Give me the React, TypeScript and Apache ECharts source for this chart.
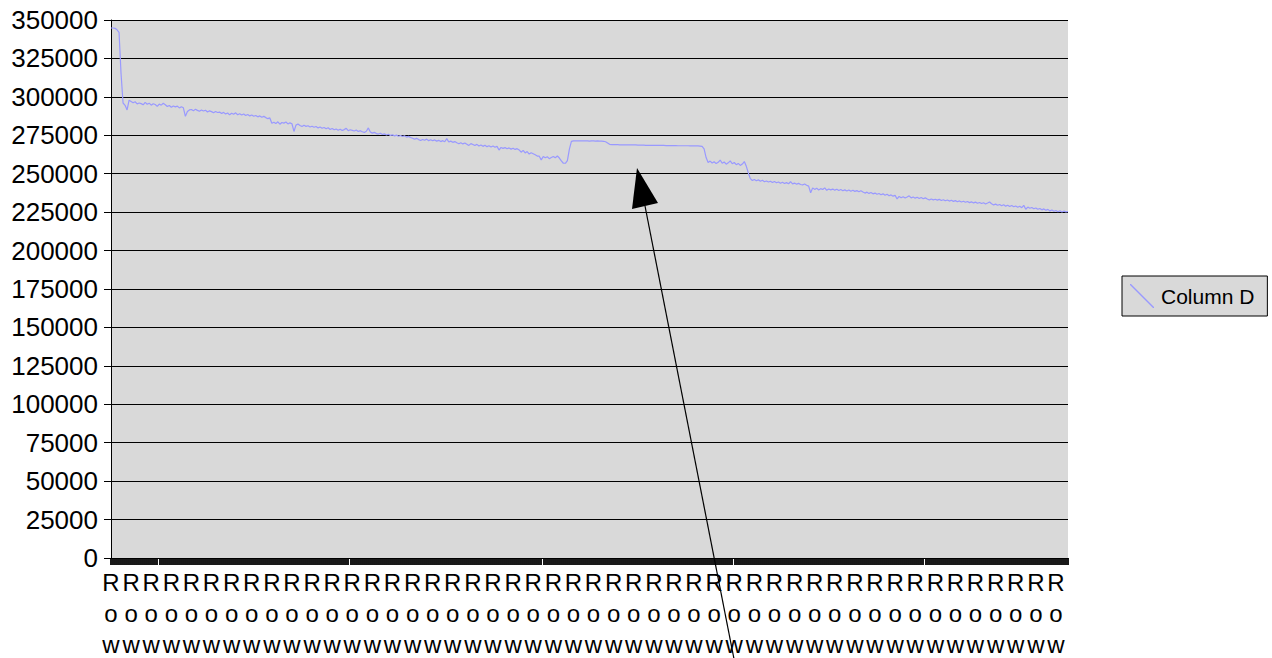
import React, { useEffect, useRef } from "react";
import * as echarts from "echarts";

const seriesName = "Column D";
const yTicks = { min: 0, max: 350000, interval: 25000 };

const columnD: number[] = [
  344800, 344800, 344600, 343600, 342000, 315000, 296000, 294500, 291500, 297800,
  297000, 296200, 296800, 295400, 296000, 295600, 294800, 296400, 295200, 295900,
  294600, 295500, 295000, 293800, 295300, 294600, 295800, 294900, 293700, 294400,
  293200, 294100, 293500, 294000, 292800, 293600, 292900, 287300, 290500, 291500,
  291800, 290900, 292000, 291200, 290600, 291400, 290800, 291300, 290200, 290900,
  290400, 289600, 290500, 289800, 290100, 289200, 289900, 288800, 289500, 288300,
  289300, 288700, 289600, 288400, 289000, 288200, 288800, 287900, 288500, 287600,
  288200, 287400, 287900, 287000, 287600, 286700, 287300, 286500, 285800, 286300,
  282800, 283500, 282600, 283800, 282200, 283300, 282900, 283600, 282400, 283100,
  282500, 277500, 281600, 282300, 281400, 280700, 281500, 280800, 281200, 280400,
  280900, 280200, 280700, 279800, 280400, 279600, 280100, 279300, 279900, 278800,
  279400, 278600, 279100, 278300, 278900, 278100, 278700, 279500, 278000, 278600,
  278200, 277800, 278400, 277500, 278000, 277300, 276800, 277600, 279800, 277200,
  276400, 276900, 276100, 275800, 276300, 275500, 275900, 275200, 275700, 274900,
  275300, 274600, 275100, 274400, 274900, 274200, 274700, 273800, 274300, 273600,
  273100, 272400, 273000, 272200, 271600, 272300, 271800, 272500, 271500, 272100,
  271400, 272000, 271200, 271700, 270900, 271500, 270800, 272800, 270600, 271200,
  270400, 270900, 270100, 269500, 270200, 269400, 270000, 269200, 268400, 269600,
  269000, 268300, 269100, 268000, 268700, 267800, 268500, 267600, 268200, 267400,
  268000, 267200, 267800, 265400, 267100, 266500, 267000, 266200, 266800, 266000,
  266600, 265800, 266300, 265500, 264000, 265200, 263500, 264400, 262800, 263600,
  263000, 262300, 261500, 261400, 259000, 261200, 260400, 261000, 259800, 260600,
  261200, 260400, 261500, 260200, 258300, 256800, 256800, 258500, 266000, 271000,
  271400, 271300, 271400, 271300, 271300, 271400, 271300, 271300, 271200, 271300,
  271300, 271200, 271300, 271200, 271200, 271100, 270800, 270000, 269100, 268900,
  268900, 268900, 268900, 268800, 268800, 268800, 268800, 268700, 268700, 268700,
  268700, 268700, 268600, 268600, 268600, 268600, 268500, 268500, 268500, 268500,
  268500, 268400, 268400, 268400, 268400, 268400, 268300, 268300, 268300, 268300,
  268300, 268300, 268200, 268200, 268200, 268200, 268200, 268200, 268100, 268100,
  268100, 268100, 268100, 268000, 267800, 266200, 260500, 257300, 258200, 257000,
  257800, 256600, 257400, 258900, 256800, 257600, 256200, 257100, 258400, 256500,
  257300, 255900, 256700, 255400, 256300, 257900, 254800, 250500, 246800, 245600,
  246200, 245400, 246000, 245100, 245700, 244800, 245300, 244600, 245100, 244300,
  244900, 244100, 244600, 243800, 244400, 243600, 244200, 243500, 244800, 243400,
  243900, 243200, 243700, 243000, 242700, 243300, 242500, 241900, 237600, 240800,
  239800, 240600, 239400, 240300, 239700, 240800, 239200, 240100, 239500, 240000,
  239300, 239900, 239100, 239700, 238900, 239500, 238800, 239400, 238600, 239200,
  238500, 239000, 238300, 238900, 238100, 237400, 238000, 237200, 237800, 236900,
  237400, 236600, 237100, 236300, 236900, 236000, 236600, 235700, 236200, 235400,
  235900, 233600, 235200, 234400, 235000, 234200, 234800, 235600, 234300, 234900,
  234100, 234700, 233900, 234500, 233700, 234300, 233500, 232900, 233600, 233000,
  233400, 232800, 233300, 232600, 233100, 232400, 232900, 232200, 232700, 232000,
  232500, 231800, 232300, 231600, 232100, 231400, 231900, 231200, 231700, 231000,
  231500, 230800, 231300, 230600, 231100, 230300, 230900, 231600, 230500, 229700,
  230200, 229500, 230000, 229200, 229800, 228900, 229500, 228700, 229300, 228500,
  229000, 228200, 228800, 227900, 229400, 226900, 228300, 227500, 228000, 227200,
  227700, 226900, 227400, 226500, 227100, 226200, 226800, 225800, 226400, 225600,
  226100, 225300, 225900, 225100, 225700, 225200, 225400,
];

const categories: string[] = columnD.map((_, i) => "Row " + (i + 1));

const FONT = "'Liberation Sans', Arial, sans-serif";

export default function App() {
  const ref = useRef<HTMLDivElement>(null);
  useEffect(() => {
    if (!ref.current) return;
    const chart = echarts.init(ref.current, null, { renderer: "svg" });
    chart.setOption({
      animation: false,
      backgroundColor: "#ffffff",
      textStyle: { fontFamily: FONT },
      grid: {
        left: 111,
        right: 204,
        top: 20,
        bottom: 100,
        show: true,
        backgroundColor: "#d9d9d9",
        borderWidth: 0,
        containLabel: false,
        outerBoundsMode: "none",
      },
      legend: {
        show: true,
        left: 1122,
        top: 276,
        orient: "vertical",
        backgroundColor: "#d9d9d9",
        borderColor: "#000000",
        borderWidth: 1,
        borderRadius: 0,
        padding: [8, 13, 8, 8],
        itemWidth: 24,
        itemHeight: 24,
        itemGap: 5,
        icon: "path://M0,0L1,0L24,23L24,24L23,24L0,1Z",
        textStyle: { fontSize: 21, color: "#000000", fontFamily: FONT, padding: [0, 0, 0, 2] },
        data: [seriesName],
      },
      xAxis: {
        type: "category",
        data: categories,
        boundaryGap: false,
        axisLine: { show: true, lineStyle: { color: "#000000", width: 1 } },
        axisTick: { show: true, interval: 0, length: 7, lineStyle: { color: "#000000", width: 1.8 } },
        axisLabel: {
          interval: 9,
          margin: 9,
          fontSize: 24,
          lineHeight: 31,
          color: "#000000",
          fontFamily: FONT,
          formatter: (v: string) => v.slice(0, 3).split("").join("\n"),
        },
        splitLine: { show: false },
      },
      yAxis: {
        type: "value",
        min: yTicks.min,
        max: yTicks.max,
        interval: yTicks.interval,
        axisLine: { show: true, lineStyle: { color: "#000000", width: 1 } },
        axisTick: { show: true, length: 7, lineStyle: { color: "#000000", width: 1 } },
        axisLabel: {
          margin: 13,
          fontSize: 26,
          color: "#000000",
          fontFamily: FONT,
          formatter: (v: number) => String(v),
        },
        splitLine: { show: true, lineStyle: { color: "#000000", width: 1 } },
      },
      series: [
        {
          name: seriesName,
          type: "line",
          data: columnD,
          showSymbol: false,
          symbol: "none",
          color: "#9999ff",
          lineStyle: { color: "#9999ff", width: 1.2 },
          itemStyle: { color: "#9999ff" },
        },
      ],
      graphic: [
        {
          type: "line",
          z: 100,
          shape: { x1: 645, y1: 206, x2: 735, y2: 664 },
          style: { stroke: "#000000", lineWidth: 1.2 },
        },
        {
          type: "polygon",
          z: 100,
          shape: { points: [[637, 168], [632, 209], [658, 203]] },
          style: { fill: "#000000" },
        },
      ],
    });
    return () => chart.dispose();
  }, []);
  return (
    <div
      ref={ref}
      style={{ position: "fixed", left: 0, top: 0, width: 1272, height: 658, overflow: "hidden" }}
    />
  );
}
